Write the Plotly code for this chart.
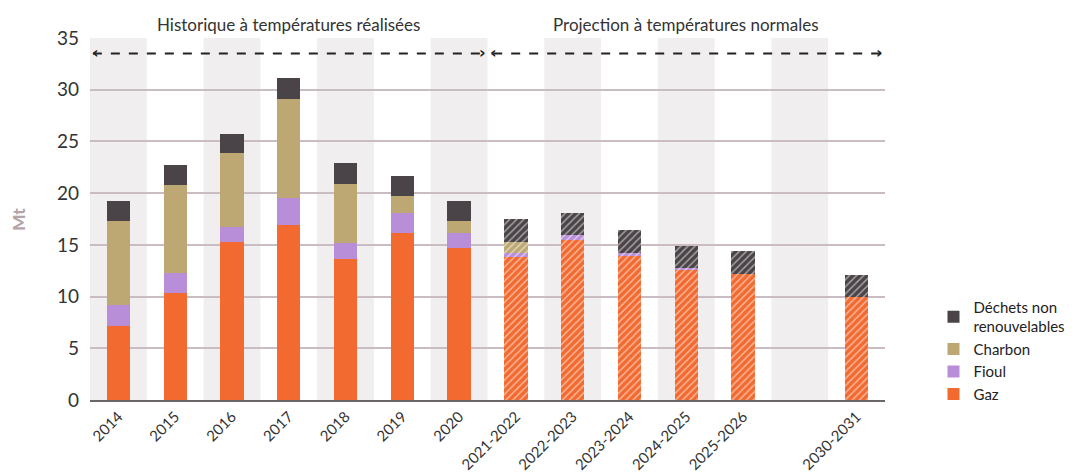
import plotly.graph_objects as go

categories = ["2014", "2015", "2016", "2017", "2018", "2019", "2020",
              "2021-2022", "2022-2023", "2023-2024", "2024-2025", "2025-2026", " ", "2030-2031"]
gaz = [7.2, 10.3, 15.3, 16.9, 13.6, 16.1, 14.7, 13.8, 15.5, 13.9, 12.6, 12.2, None, 10.0]
fioul = [2.0, 2.0, 1.4, 2.6, 1.6, 2.0, 1.4, 0.4, 0.5, 0.3, 0.2, 0.0, None, 0.0]
charbon = [8.1, 8.5, 7.2, 9.6, 5.7, 1.6, 1.2, 1.1, 0.0, 0.0, 0.0, 0.0, None, 0.0]
dechets = [1.9, 1.9, 1.8, 2.0, 2.0, 2.0, 1.9, 2.2, 2.1, 2.2, 2.1, 2.2, None, 2.1]
projection = [False] * 7 + [True] * 7

series = [
    ("Gaz", gaz, "#F26A30"),
    ("Fioul", fioul, "#B98ED9"),
    ("Charbon", charbon, "#BDA873"),
    ("Déchets non<br>renouvelables", dechets, "#4A4347"),
]

FONT = "Lato"
fig = go.Figure()
shapes_pattern = ["/" if p else "" for p in projection]
for name, vals, col in series:
    fig.add_trace(go.Bar(
        x=categories, y=vals, name=name, width=0.41,
        marker=dict(color=col, line=dict(width=0),
                    pattern=dict(shape=shapes_pattern, fillmode="overlay",
                                 fgcolor="white", size=5, solidity=0.3)),
    ))

shapes = []
for i in range(len(categories)):
    if i % 2 == 0:
        shapes.append(dict(type="rect", xref="x", yref="paper", x0=i - 0.5, x1=i + 0.5,
                           y0=0, y1=1, fillcolor="#F1EEEF", line=dict(width=0), layer="below"))
# dashed arrows
shapes.append(dict(type="line", xref="x", yref="y", x0=-0.45, x1=6.45, y0=33.5, y1=33.5,
                   line=dict(color="#222", width=2, dash="dash")))
shapes.append(dict(type="line", xref="x", yref="y", x0=6.6, x1=13.45, y0=33.5, y1=33.5,
                   line=dict(color="#222", width=2, dash="dash")))

annotations = [
    dict(text="Historique à températures réalisées", xref="x", yref="paper", x=3, y=1,
         yanchor="bottom", yshift=1, showarrow=False, font=dict(family=FONT, size=17, color="#333")),
    dict(text="Projection à températures normales", xref="x", yref="paper", x=10, y=1,
         yanchor="bottom", yshift=1, showarrow=False, font=dict(family=FONT, size=17, color="#333")),
    dict(text="<b>Mt</b>", xref="paper", yref="paper", x=-0.091, y=0.5, textangle=-90,
         xanchor="center", yanchor="middle", showarrow=False,
         font=dict(family="Lato Black, Lato", size=17, color="#B3A4AA")),
]
for xpos, ch, anchor in [(-0.5, "‹", "left"), (6.5, "›", "right"), (6.5, "‹", "left"), (13.5, "›", "right")]:
    annotations.append(dict(text="<b>" + ch + "</b>", xref="x", yref="y", x=xpos, y=33.5,
                            xanchor=anchor, yanchor="middle", showarrow=False, yshift=1,
                            font=dict(family="DejaVu Sans", size=16, color="#222")))

fig.update_layout(
    width=1077, height=467,
    margin=dict(l=82, r=200, t=30, b=75, autoexpand=False),
    barmode="stack",
    plot_bgcolor="white", paper_bgcolor="white",
    font=dict(family=FONT, color="#333"),
    shapes=shapes, annotations=annotations,
    showlegend=True,
    legend=dict(x=1.061, y=-0.03, xanchor="left", yanchor="bottom", traceorder="reversed",
                font=dict(family=FONT, size=15, color="#222"), itemwidth=30,
                tracegroupgap=0, bgcolor="rgba(0,0,0,0)"),
    xaxis=dict(type="category", categoryorder="array", categoryarray=categories,
               tickangle=-45, tickfont=dict(family=FONT, size=15, color="#333"),
               showgrid=False, showline=True, linecolor="#6B6668", linewidth=2,
               ticks="", range=[-0.5, 13.5], automargin=False),
    yaxis=dict(range=[0, 35], dtick=5, showgrid=True, gridcolor="#C9BCC2", gridwidth=1.5,
               zeroline=False, tickfont=dict(family=FONT, size=19, color="#333"),
               ticks="", showline=False, automargin=False, ticklabelstandoff=10),
)
fig.write_html("out.html")
